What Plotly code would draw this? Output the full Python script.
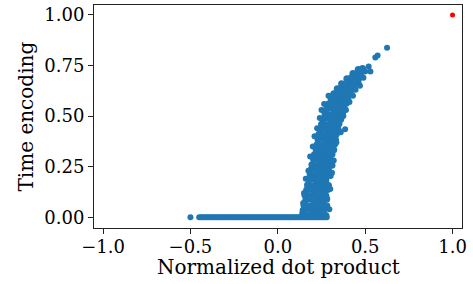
import plotly.graph_objects as go

# Baseline points (time encoding = 0)
base_x = [-0.50, -0.45, -0.44, -0.43, -0.42, -0.41, -0.40, -0.39, -0.38, -0.37, -0.36, -0.35,
          -0.34, -0.33, -0.32, -0.31, -0.30, -0.29, -0.28, -0.27, -0.26, -0.25, -0.24, -0.23,
          -0.22, -0.21, -0.20, -0.19, -0.18, -0.17, -0.16, -0.15, -0.14, -0.13, -0.12, -0.11,
          -0.10, -0.09, -0.08, -0.07, -0.06, -0.05, -0.04, -0.03, -0.02, -0.01, 0.00, 0.01,
          0.02, 0.03, 0.04, 0.05, 0.06, 0.07, 0.08, 0.09, 0.10, 0.11, 0.12, 0.13, 0.14, 0.15,
          0.16, 0.17, 0.18, 0.19, 0.20, 0.21, 0.22, 0.23, 0.24, 0.25, 0.26, 0.27, 0.28]
base_y = [0.0, 0.0, 0.0, 0.0, 0.0, 0.0, 0.0, 0.0, 0.0, 0.0, 0.0, 0.0,
          0.0, 0.0, 0.0, 0.0, 0.0, 0.0, 0.0, 0.0, 0.0, 0.0, 0.0, 0.0,
          0.0, 0.0, 0.0, 0.0, 0.0, 0.0, 0.0, 0.0, 0.0, 0.0, 0.0, 0.0,
          0.0, 0.0, 0.0, 0.0, 0.0, 0.0, 0.0, 0.0, 0.0, 0.0, 0.0, 0.0,
          0.0, 0.0, 0.0, 0.0, 0.0, 0.0, 0.0, 0.0, 0.0, 0.0, 0.0, 0.0, 0.0, 0.0,
          0.0, 0.0, 0.0, 0.0, 0.0, 0.0, 0.0, 0.0, 0.0, 0.0, 0.0, 0.0, 0.0]

# Rising cloud of points (row by row, bottom to top)
cloud_x = [0.15, 0.175, 0.20, 0.225, 0.25, 0.275,
           0.145, 0.165, 0.19, 0.215, 0.24, 0.265,
           0.15, 0.18, 0.205, 0.23, 0.255, 0.28,
           0.16, 0.185, 0.21, 0.235, 0.26, 0.28,
           0.155, 0.18, 0.205, 0.225, 0.25, 0.275,
           0.165, 0.19, 0.215, 0.24, 0.265, 0.285,
           0.17, 0.195, 0.22, 0.245, 0.27, 0.29,
           0.18, 0.205, 0.23, 0.255, 0.275,
           0.185, 0.21, 0.235, 0.26, 0.285, 0.30,
           0.19, 0.215, 0.24, 0.265, 0.29,
           0.195, 0.22, 0.245, 0.27, 0.295, 0.31,
           0.205, 0.23, 0.255, 0.28, 0.30,
           0.21, 0.235, 0.26, 0.285, 0.31,
           0.22, 0.245, 0.27, 0.295, 0.32,
           0.225, 0.25, 0.275, 0.30, 0.325,
           0.23, 0.255, 0.28, 0.305, 0.33,
           0.235, 0.26, 0.285, 0.31, 0.335,
           0.245, 0.27, 0.295, 0.32, 0.345,
           0.25, 0.275, 0.30, 0.325, 0.35,
           0.26, 0.285, 0.31, 0.335, 0.36,
           0.27, 0.295, 0.32, 0.345, 0.37,
           0.28, 0.305, 0.33, 0.355, 0.38,
           0.29, 0.315, 0.34, 0.365, 0.39,
           0.305, 0.33, 0.355, 0.38, 0.40,
           0.32, 0.345, 0.37, 0.395, 0.415,
           0.34, 0.365, 0.39, 0.41, 0.435,
           0.365, 0.39, 0.415, 0.44, 0.46,
           0.395, 0.42, 0.445, 0.465,
           0.43, 0.455, 0.475,
           0.46, 0.485]
cloud_y = [0.012, 0.008, 0.015, 0.010, 0.014, 0.009,
           0.035, 0.040, 0.032, 0.038, 0.034, 0.040,
           0.060, 0.056, 0.064, 0.058, 0.062, 0.057,
           0.085, 0.090, 0.082, 0.088, 0.084, 0.090,
           0.110, 0.106, 0.114, 0.108, 0.112, 0.106,
           0.135, 0.139, 0.132, 0.138, 0.133, 0.137,
           0.160, 0.156, 0.163, 0.158, 0.162, 0.157,
           0.185, 0.189, 0.182, 0.188, 0.184,
           0.210, 0.206, 0.213, 0.208, 0.212, 0.207,
           0.235, 0.239, 0.232, 0.238, 0.234,
           0.260, 0.256, 0.263, 0.258, 0.262, 0.257,
           0.285, 0.289, 0.282, 0.288, 0.284,
           0.310, 0.306, 0.313, 0.308, 0.312,
           0.335, 0.339, 0.332, 0.338, 0.334,
           0.360, 0.356, 0.363, 0.358, 0.362,
           0.385, 0.389, 0.382, 0.388, 0.384,
           0.410, 0.406, 0.413, 0.408, 0.412,
           0.435, 0.439, 0.432, 0.438, 0.434,
           0.460, 0.456, 0.463, 0.458, 0.462,
           0.485, 0.489, 0.482, 0.488, 0.484,
           0.510, 0.506, 0.513, 0.508, 0.512,
           0.535, 0.539, 0.532, 0.538, 0.534,
           0.560, 0.556, 0.563, 0.558, 0.562,
           0.585, 0.589, 0.582, 0.588, 0.584,
           0.610, 0.606, 0.613, 0.608, 0.612,
           0.635, 0.639, 0.632, 0.638, 0.634,
           0.660, 0.656, 0.663, 0.658, 0.662,
           0.685, 0.689, 0.682, 0.688,
           0.710, 0.706, 0.713,
           0.730, 0.735]

# Scattered points around the edges of the cloud and outliers
edge_x = [0.14, 0.145, 0.15, 0.16, 0.175, 0.185, 0.20, 0.21, 0.225, 0.24, 0.25, 0.265,
          0.29, 0.295, 0.30, 0.31, 0.32, 0.335, 0.385, 0.36, 0.375, 0.39, 0.41, 0.43,
          0.445, 0.47, 0.49, 0.50, 0.52, 0.53, 0.558, 0.571, 0.625]
edge_y = [0.02, 0.07, 0.12, 0.19, 0.23, 0.30, 0.35, 0.40, 0.44, 0.49, 0.53, 0.56,
          0.60, 0.04, 0.14, 0.22, 0.28, 0.37, 0.435, 0.42, 0.50, 0.53, 0.57, 0.60,
          0.63, 0.65, 0.69, 0.72, 0.745, 0.72, 0.789, 0.80, 0.838]

# Highlighted point
red_x = [1.0]
red_y = [1.0]

x_ticks = [-1.0, -0.5, 0.0, 0.5, 1.0]
x_ticklabels = ["\u22121.0", "\u22120.5", "0.0", "0.5", "1.0"]
y_ticks = [0.0, 0.25, 0.5, 0.75, 1.0]
y_ticklabels = ["0.00", "0.25", "0.50", "0.75", "1.00"]

blue = "#1f77b4"
font = "DejaVu Serif"

fig = go.Figure()
fig.add_trace(go.Scatter(x=cloud_x, y=cloud_y, mode="markers",
                         marker=dict(size=7, color=blue, line=dict(width=0)),
                         showlegend=False, hoverinfo="skip"))
fig.add_trace(go.Scatter(x=base_x + edge_x, y=base_y + edge_y, mode="markers",
                         marker=dict(size=6, color=blue, line=dict(width=0)),
                         showlegend=False, hoverinfo="skip"))
fig.add_trace(go.Scatter(x=red_x, y=red_y, mode="markers",
                         marker=dict(size=5, color="#ff0000", line=dict(width=0)),
                         showlegend=False, hoverinfo="skip"))

axis_common = dict(showgrid=False, zeroline=False, showline=True, mirror=True,
                   linecolor="#222", linewidth=1, ticks="outside", ticklen=5,
                   tickwidth=1, tickcolor="#222", automargin=False,
                   tickfont=dict(family=font, size=18, color="black"))

fig.update_layout(
    width=473, height=284,
    margin=dict(l=94, r=11, t=5, b=56),
    paper_bgcolor="white", plot_bgcolor="white",
    xaxis=dict(range=[-1.052, 1.054], tickvals=x_ticks, ticktext=x_ticklabels,
               ticklabelstandoff=-3, **axis_common),
    yaxis=dict(range=[-0.053, 1.049], tickvals=y_ticks, ticktext=y_ticklabels, **axis_common),
    annotations=[
        dict(text="Normalized dot product", xref="paper", yref="paper", x=0.5, y=0,
             yshift=-39, xanchor="center", yanchor="middle", showarrow=False,
             font=dict(family=font, size=20, color="black")),
        dict(text="Time encoding", xref="paper", yref="paper", x=0, y=0.5,
             xshift=-69, xanchor="center", yanchor="middle", showarrow=False, textangle=-90,
             font=dict(family=font, size=20, color="black")),
    ],
)

fig.write_html("out.html", config={"displayModeBar": False},
               post_script="document.body.style.margin='0';")
